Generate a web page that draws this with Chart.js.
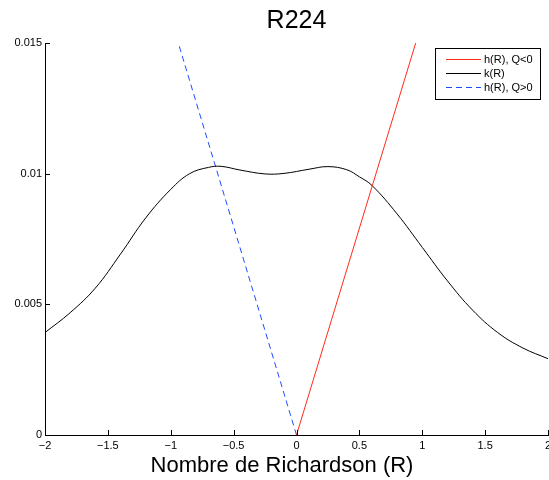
<!DOCTYPE html>
<html>
<head>
<meta charset="utf-8">
<script src="https://cdn.jsdelivr.net/npm/chart.js@4"></script>
<style>
html, body { margin: 0; padding: 0; background: #fff; }
</style>
</head>
<body>
<canvas id="chart" width="549" height="480"></canvas>
<script>
const titleText = 'R224';
const xTitle = 'Nombre de Richardson (R)';
const xTicks = [-2, -1.5, -1, -0.5, 0, 0.5, 1, 1.5, 2];
const xTickLabels = ['\u22122', '\u22121.5', '\u22121', '\u22120.5', '0', '0.5', '1', '1.5', '2'];
const yTicks = [0, 0.005, 0.01, 0.015];
const yTickLabels = ['0', '0.005', '0.01', '0.015'];
const seriesNames = ['h(R), Q<0', 'k(R)', 'h(R), Q>0'];
const seriesColors = ['#ff2a1a', '#000000', '#1f4bff'];
const seriesDash = [[], [], [6, 4]];

// h(R) for Q<0 (red)
const hNegX = [0, 0.948];
const hNegY = [0, 0.015];

// k(R) (black)
const kX = [-2.0, -1.8, -1.6, -1.4, -1.2, -1.0, -0.85, -0.7, -0.6, -0.45, -0.25, -0.1,
            0.1, 0.25, 0.4, 0.5, 0.6, 0.8, 1.0, 1.2, 1.4, 1.6, 1.8, 2.0];
const kY = [0.00392, 0.00468, 0.00562, 0.00692, 0.0083, 0.0094, 0.01, 0.01024, 0.01028, 0.01014, 0.00999, 0.01001,
            0.01017, 0.01027, 0.01015, 0.00988, 0.00955, 0.00846, 0.00718, 0.0059, 0.00478, 0.00392, 0.00333, 0.00292];

// h(R) for Q>0 (blue dashed)
const hPosX = [0, -0.94];
const hPosY = [0, 0.015];

const fontFamily = '"Liberation Sans", Arial, Helvetica, sans-serif';
const toPoints = (xs, ys) => xs.map((x, i) => ({ x: x, y: ys[i] }));

// inward tick marks, title, axis title and legend box
const decorations = {
    id: 'decorations',
    afterDraw(chart) {
        const ctx = chart.ctx;
        const area = chart.chartArea;
        const xs = chart.scales.x;
        const ys = chart.scales.y;
        ctx.save();
        ctx.strokeStyle = '#000';
        ctx.lineWidth = 1;
        ctx.beginPath();
        xTicks.forEach(v => {
            const px = Math.round(xs.getPixelForValue(v)) + 0.5;
            ctx.moveTo(px, area.bottom);
            ctx.lineTo(px, area.bottom - 5);
        });
        yTicks.forEach(v => {
            const py = Math.round(ys.getPixelForValue(v)) + 0.5;
            ctx.moveTo(area.left, py);
            ctx.lineTo(area.left + 5, py);
        });
        ctx.stroke();

        ctx.fillStyle = '#000';
        ctx.textAlign = 'center';
        ctx.textBaseline = 'alphabetic';
        ctx.font = '25px ' + fontFamily;
        ctx.fillText(titleText, (area.left + area.right) / 2, 28);
        ctx.font = '22px ' + fontFamily;
        ctx.fillText(xTitle, 282, 472);

        // legend
        const bx = 435.5, by = 48.5, bw = 105, bh = 51;
        ctx.fillStyle = '#fff';
        ctx.fillRect(bx, by, bw, bh);
        ctx.strokeStyle = '#000';
        ctx.strokeRect(bx, by, bw, bh);
        ctx.font = '11px ' + fontFamily;
        ctx.textAlign = 'left';
        ctx.textBaseline = 'middle';
        seriesNames.forEach((name, i) => {
            const ly = 59.5 + i * 14;
            ctx.beginPath();
            ctx.strokeStyle = seriesColors[i];
            ctx.lineWidth = 1;
            ctx.setLineDash(seriesDash[i]);
            ctx.moveTo(446, ly);
            ctx.lineTo(481, ly);
            ctx.stroke();
            ctx.setLineDash([]);
            ctx.fillStyle = '#000';
            ctx.fillText(name, 484, ly);
        });
        ctx.restore();
    }
};

new Chart(document.getElementById('chart'), {
    type: 'line',
    data: {
        datasets: [
            {
                label: seriesNames[0],
                data: toPoints(hNegX, hNegY),
                borderColor: seriesColors[0],
                borderWidth: 1,
                pointRadius: 0,
                fill: false
            },
            {
                label: seriesNames[1],
                data: toPoints(kX, kY),
                borderColor: seriesColors[1],
                borderWidth: 1,
                pointRadius: 0,
                fill: false,
                tension: 0.4
            },
            {
                label: seriesNames[2],
                data: toPoints(hPosX, hPosY),
                borderColor: seriesColors[2],
                borderWidth: 1,
                borderDash: seriesDash[2],
                pointRadius: 0,
                fill: false
            }
        ]
    },
    options: {
        responsive: false,
        animation: false,
        layout: { padding: { top: 43, right: 1, bottom: 0, left: 0 } },
        plugins: {
            legend: { display: false },
            title: { display: false },
            tooltip: { enabled: false }
        },
        scales: {
            x: {
                type: 'linear',
                min: -2,
                max: 2,
                afterBuildTicks: scale => { scale.ticks = xTicks.map(v => ({ value: v })); },
                afterFit: scale => {
                    scale.height = 45;
                    scale.paddingLeft = 0;
                    scale.paddingRight = 0;
                },
                grid: { drawOnChartArea: false, drawTicks: false },
                border: { display: true, color: '#000', width: 1 },
                ticks: {
                    autoSkip: false,
                    maxRotation: 0,
                    padding: 4,
                    color: '#000',
                    font: { family: fontFamily, size: 11 },
                    callback: (v, i) => xTickLabels[i]
                }
            },
            y: {
                type: 'linear',
                min: 0,
                max: 0.015,
                afterBuildTicks: scale => { scale.ticks = yTicks.map(v => ({ value: v })); },
                afterFit: scale => {
                    scale.width = 45;
                    scale.paddingTop = 0;
                    scale.paddingBottom = 0;
                },
                grid: { drawOnChartArea: false, drawTicks: false },
                border: { display: true, color: '#000', width: 1 },
                ticks: {
                    autoSkip: false,
                    padding: 3,
                    color: '#000',
                    font: { family: fontFamily, size: 11 },
                    callback: (v, i) => yTickLabels[i]
                }
            }
        }
    },
    plugins: [decorations]
});
</script>
</body>
</html>
